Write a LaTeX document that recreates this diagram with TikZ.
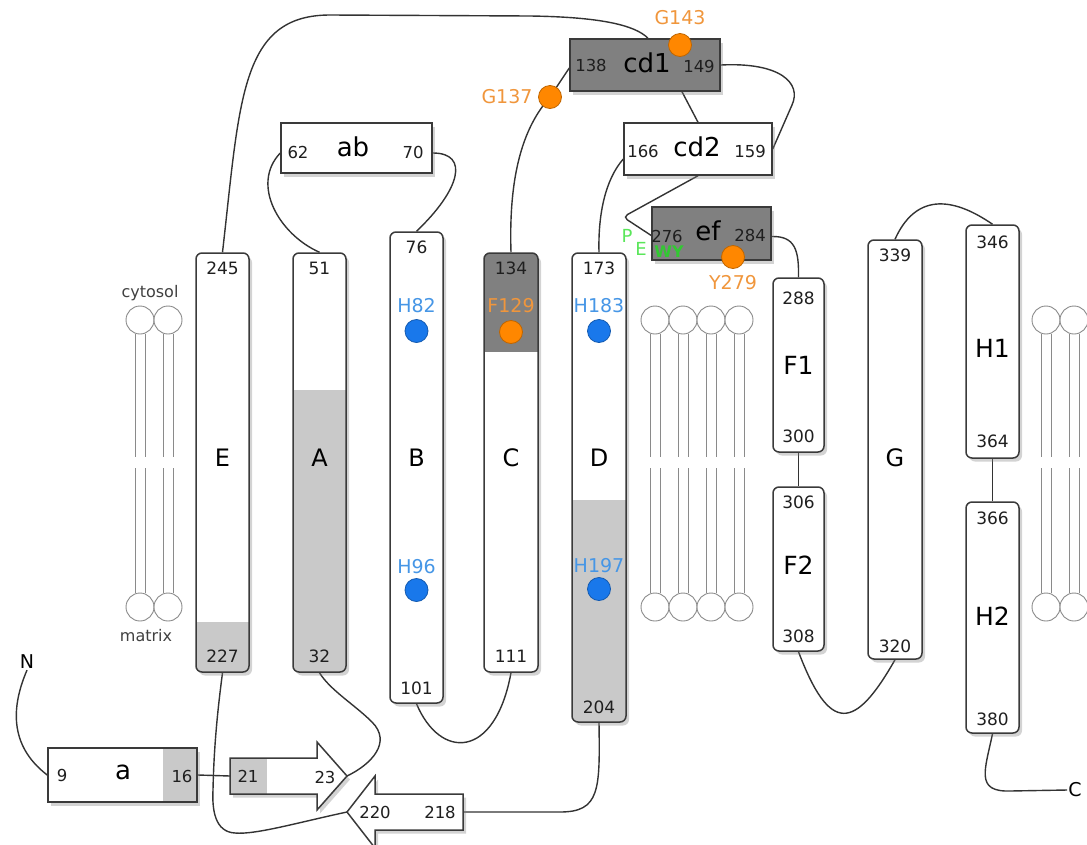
\documentclass[tikz,border=0pt]{standalone}
\usepackage{fontspec}
\setmainfont{DejaVu Sans}
\usetikzlibrary{shadows,backgrounds,calc}
\definecolor{bord}{HTML}{3A3A3A}
\definecolor{lightg}{HTML}{C9C9C9}
\definecolor{darkg}{HTML}{808080}
\definecolor{resblue}{RGB}{25,120,235}
\definecolor{txtblue}{RGB}{70,150,230}
\definecolor{resorange}{RGB}{255,135,0}
\definecolor{txtorange}{RGB}{240,150,60}
\definecolor{greenl}{RGB}{90,230,90}
\definecolor{greend}{RGB}{50,200,50}
\definecolor{lipid}{HTML}{8A8A8A}
\definecolor{conncol}{HTML}{333333}
\begin{document}
\begin{tikzpicture}[x=1pt,y=-1pt,
  shad/.style={drop shadow={opacity=0.35, shadow xshift=3pt, shadow yshift=-3.5pt}},
  helix/.style={draw=bord, line width=1.5pt, rounded corners=6pt, fill=white, inner sep=0pt, minimum width=53pt, shad},
  hbox/.style={draw=bord, line width=1.5pt, fill=white, inner sep=0pt, shad},
  botg/.style={path picture={\fill[lightg, sharp corners] (path picture bounding box.south west) rectangle ([yshift=#1]path picture bounding box.south east);}},
  topg/.style={path picture={\fill[darkg, sharp corners] (path picture bounding box.north west) rectangle ([yshift=-#1]path picture bounding box.north east);}},
  num/.style={font=\fontsize{17}{17}\selectfont, text=black!88, inner sep=0pt},
  bnum/.style={font=\fontsize{16.5}{16.5}\selectfont, text=black!88, inner sep=0pt},
  hlab/.style={font=\fontsize{24}{24}\selectfont, inner sep=0pt},
  hlabb/.style={font=\fontsize{25}{25}\selectfont, inner sep=0pt},
  blab/.style={font=\fontsize{26}{26}\selectfont, inner sep=0pt},
  reslab/.style={font=\fontsize{19}{19}\selectfont, inner sep=0pt},
  side/.style={font=\fontsize{16}{16}\selectfont, text=black!75, inner sep=0pt},
  term/.style={font=\fontsize{19}{19}\selectfont, inner sep=1pt},
  resb/.style={circle, minimum size=23pt, inner sep=0pt, line width=0.8pt, fill=resblue, draw=resblue!75!black},
  reso/.style={circle, minimum size=23pt, inner sep=0pt, line width=0.8pt, fill=resorange, draw=resorange!75!black},
  lip/.style={draw=lipid, line width=0.9pt},
  conn/.style={draw=conncol, line width=1.4pt},
  arrowbox/.style={draw=bord, line width=1.5pt, fill=white, line join=miter, shad}
]
\useasboundingbox (0,0) rectangle (1087,844);

% lipids
\foreach \x in {140,168,655,683,711,739,1046,1074}{
  \draw[lip] ({\x-5},334) -- ({\x-5},457) ({\x+5},334) -- ({\x+5},457)
             ({\x-5},468) -- ({\x-5},593) ({\x+5},468) -- ({\x+5},593);
  \draw[lip, fill=white] (\x,320) circle (14pt);
  \draw[lip, fill=white] (\x,607) circle (14pt);
}
\node[side] (cyt) at (150,293) {cytosol};
\node[side] (mat) at (146,636) {matrix};

% helices
\node[helix, minimum height=419pt, botg=50pt] (E) at (222.5,462.5) {};
\node[helix, minimum height=419pt, botg=282pt] (A) at (319.5,462.5) {};
\node[helix, minimum height=471pt] (B) at (416.5,467.5) {};
\node[helix, minimum width=54pt, minimum height=419pt, topg=99pt] (C) at (511,462.5) {};
\node[helix, minimum width=54pt, minimum height=469pt, botg=222pt] (D) at (599,487.5) {};
\node[helix, minimum width=51pt, minimum height=174pt] (F1) at (798.5,365) {};
\node[helix, minimum width=51pt, minimum height=164pt] (F2) at (798.5,569) {};
\node[helix, minimum width=54pt, minimum height=419pt] (G) at (895,449.5) {};
\node[helix, minimum height=233pt] (H1) at (992.5,341.5) {};
\node[helix, minimum height=231pt] (H2) at (992.5,617.5) {};

% helix labels
\node[num] (E1) at (222.5,268) {245};
\node[num] (E2) at (222.5,656) {227};
\node[hlab] (El) at (222.5,458) {E};
\node[num] (A1) at (319.5,268) {51};
\node[num] (A2) at (319.5,656) {32};
\node[hlab] (Al) at (319.5,458) {A};
\node[num] (B1) at (416.5,247) {76};
\node[num] (B2) at (416.5,688) {101};
\node[hlab] (Bl) at (416.5,458) {B};
\node[num] (C1) at (511,268) {134};
\node[num] (C2) at (511,656) {111};
\node[hlab] (Cl) at (511,458) {C};
\node[num] (D1) at (599,268) {173};
\node[num] (D2) at (599,707) {204};
\node[hlab] (Dl) at (599,458) {D};
\node[num] (F11) at (798.5,298) {288};
\node[num] (F12) at (798.5,436) {300};
\node[hlabb] (F1l) at (798.5,365) {F1};
\node[num] (F21) at (798.5,502) {306};
\node[num] (F22) at (798.5,636) {308};
\node[hlabb] (F2l) at (798.5,565) {F2};
\node[num] (G1) at (895,255) {339};
\node[num] (G2) at (895,646) {320};
\node[hlab] (Gl) at (895,458) {G};
\node[num] (H11) at (992.5,242) {346};
\node[num] (H12) at (992.5,441) {364};
\node[hlabb] (H1l) at (992.5,348) {H1};
\node[num] (H21) at (992.5,518) {366};
\node[num] (H22) at (992.5,719) {380};
\node[hlabb] (H2l) at (992.5,616) {H2};

% residues in helices
\node[reslab, text=txtblue] (H82l) at (416.5,306) {H82};
\node[resb] (H82) at (416.5,331) {};
\node[reslab, text=txtblue] (H96l) at (416.5,567) {H96};
\node[resb] (H96) at (416.5,590) {};
\node[reslab, text=txtorange] (F129l) at (511,306) {F129};
\node[reso] (F129) at (511,332) {};
\node[reslab, text=txtblue] (H183l) at (599,306) {H183};
\node[resb] (H183) at (599,331) {};
\node[reslab, text=txtblue] (H197l) at (599,566) {H197};
\node[resb] (H197) at (599,589) {};

% horizontal boxes
\node[hbox, fill=darkg, minimum width=150pt, minimum height=52pt] (cd1) at (645,65) {};
\node[bnum] (cd1a) at (591,65) {138};
\node[blab] (cd1l) at (647,63) {cd1};
\node[bnum] (cd1b) at (699,66) {149};
\node[hbox, minimum width=148pt, minimum height=52pt] (cd2) at (698,149) {};
\node[bnum] (cd2a) at (643,151) {166};
\node[blab] (cd2l) at (697,147) {cd2};
\node[bnum] (cd2b) at (750,151) {159};
\node[hbox, minimum width=151pt, minimum height=50pt] (ab) at (356.5,148) {};
\node[bnum] (aba) at (298,152) {62};
\node[blab] (abl) at (353,147) {ab};
\node[bnum] (abb) at (413,152) {70};
\node[hbox, fill=darkg, minimum width=119pt, minimum height=53pt] (ef) at (711.5,233.5) {};
\node[bnum] (efa) at (667,236) {276};
\node[blab] (efl) at (708,231) {ef};
\node[bnum] (efb) at (750,235) {284};
\node[hbox, minimum width=149pt, minimum height=54pt,
  path picture={\fill[lightg] ([xshift=-34pt]path picture bounding box.north east) rectangle (path picture bounding box.south east);}] (a) at (122.5,775) {};
\node[bnum] (aa) at (62,775) {9};
\node[blab] (al) at (123,772) {a};
\node[bnum] (ab2) at (182,776) {16};

% beta arrows
\draw[arrowbox, path picture={\fill[lightg] (230,758) rectangle (267,794);}]
  (230,758) -- (317,758) -- (317,742) -- (347,776) -- (317,810) -- (317,794) -- (230,794) -- cycle;
\coordinate (ar1w) at (230,776);
\coordinate (ar1tip) at (347,776);
\node[bnum] (n21) at (248,776) {21};
\node[bnum] (n23) at (325,777) {23};
\draw[arrowbox]
  (463,794) -- (375,794) -- (375,776) -- (347,812) -- (375,848) -- (375,830) -- (463,830) -- cycle;
\coordinate (ar2tip) at (347,812);
\coordinate (ar2e) at (463,812);
\node[bnum] (n220) at (375,812) {220};
\node[bnum] (n218) at (440,812) {218};

% loop residues
\node[reso] (G137) at (550,97) {};
\node[reslab, text=txtorange] (G137l) at (507,97) {G137};
\node[reso] (G143) at (680,45) {};
\node[reslab, text=txtorange] (G143l) at (680,18) {G143};
\node[reso] (Y279) at (733,257) {};
\node[reslab, text=txtorange] (Y279l) at (733,283) {Y279};
\node[reslab, text=greenl, font=\fontsize{18}{18}\selectfont] (gP) at (627,236) {P};
\node[reslab, text=greenl, font=\fontsize{18}{18}\selectfont] (gE) at (641,249) {E};
\node[reslab, text=greend, font=\bfseries\fontsize{16}{16}\selectfont] (gWY) at (669,252) {WY};

% termini
\node[term] (N) at (27,662) {N};
\node[term] (Ct) at (1075,790) {C};

% connectors
\begin{pgfonlayer}{background}
\draw[conn] (N.south) .. controls (12,705) and (8,745) .. (a.west);
\draw[conn] (a.east) -- (ar1w);
\draw[conn] (ar1tip) .. controls (372,764) and (392,742) .. (372,722) .. controls (355,705) and (330,690) .. (A.south);
\draw[conn] (A.north) .. controls (280,235) and (250,185) .. ([yshift=-5pt]ab.west);
\draw[conn] ([yshift=-5pt]ab.east) .. controls (470,153) and (460,190) .. (B.north);
\draw[conn] (B.south) .. controls (440,760) and (495,760) .. (C.south);
\draw[conn] (C.north) .. controls (508,160) and (530,120) .. (G137.center) -- ([yshift=-3pt]cd1.west);
\draw[conn] (E.north) .. controls (240,100) and (240,15) .. (330,15) -- (530,16) .. controls (600,17) and (635,25) .. ([xshift=3pt]cd1.north);
\draw[conn] ([xshift=37pt]cd1.south) -- (cd2.north);
\draw[conn] (cd1.east) .. controls (780,62) and (802,83) .. (792,105) -- (cd2.east);
\draw[conn] ([yshift=-10pt]cd2.west) .. controls (605,180) and (598,215) .. (D.north);
\draw[conn, rounded corners=5pt] (cd2.south) -- (623,217) -- ([yshift=-2pt]ef.west);
\draw[conn] ([yshift=-3pt]ef.east) .. controls (795,236) and (799,250) .. (F1.north);
\draw[conn] (F1.south) -- (F2.north);
\draw[conn] (F2.south) .. controls (830,735) and (855,730) .. (G.south);
\draw[conn] (G.north) .. controls (915,195) and (950,195) .. (H1.north);
\draw[conn] (H1.south) -- (H2.north);
\draw[conn] (H2.south) .. controls (985,770) and (975,792) .. (1010,791) -- (Ct.west);
\draw[conn] (D.south) .. controls (600,790) and (600,812) .. (560,812) -- (ar2e);
\draw[conn] (ar2tip) .. controls (300,822) and (255,835) .. (235,833) .. controls (215,832) and (212,810) .. (213,790) .. controls (214,740) and (219,700) .. (E.south);
\end{pgfonlayer}
\end{tikzpicture}
\end{document}
